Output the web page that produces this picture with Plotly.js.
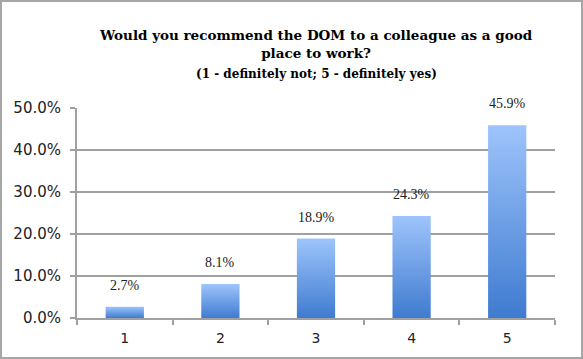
<!DOCTYPE html>
<html>
<head>
<meta charset="utf-8">
<script src="https://cdn.plot.ly/plotly-3.0.1.min.js"></script>
<style>
html,body{margin:0;padding:0;background:#fff;}
#frame{position:absolute;left:0;top:0;width:579px;height:355px;border:2px solid #a6a6a6;}
#chart{position:absolute;left:0;top:0;width:583px;height:359px;}
</style>
</head>
<body>
<div id="chart"></div>
<div id="frame"></div>
<script>
const categories = ['1', '2', '3', '4', '5'];
const percentValues = [2.7, 8.1, 18.9, 24.3, 45.9];
const yTickValues = [0, 10, 20, 30, 40, 50];
const yTickLabels = ['0.0%', '10.0%', '20.0%', '30.0%', '40.0%', '50.0%'];
const valueLabels = percentValues.map(v => v.toFixed(1) + '%');

const trace = {
  type: 'bar',
  x: categories,
  y: percentValues,
  marker: {color: '#6b9de6', line: {width: 0}},
  hoverinfo: 'none'
};

const annotations = categories.map((c, i) => ({
  x: i, y: percentValues[i], xref: 'x', yref: 'y',
  text: valueLabels[i], showarrow: false,
  yanchor: 'bottom', yshift: 12,
  font: {family: 'Liberation Serif, serif', size: 14, color: '#222'}
}));

annotations.push({
  xref: 'paper', yref: 'paper', x: 0.5, y: 1, yshift: 45, yanchor: 'bottom',
  showarrow: false,
  text: '<b>Would you recommend the DOM to a colleague as a good<br>place to work?</b>',
  font: {family: 'DejaVu Serif, serif', size: 13.5, color: '#000'}
});
annotations.push({
  xref: 'paper', yref: 'paper', x: 0.5, y: 1, yshift: 25, yanchor: 'bottom',
  showarrow: false,
  text: '<b>(1 - definitely not; 5 - definitely yes)</b>',
  font: {family: 'DejaVu Serif, serif', size: 12, color: '#000'}
});

const layout = {
  width: 583, height: 359,
  margin: {l: 77, r: 28, t: 108, b: 41, pad: 0},
  paper_bgcolor: '#fff', plot_bgcolor: '#fff',
  showlegend: false,
  bargap: 0.6,
  xaxis: {
    type: 'category',
    range: [-0.5, 4.5],
    tickson: 'boundaries',
    ticks: 'outside', ticklen: 5, tickcolor: '#a0a0a0', tickwidth: 2,
    showline: true, linecolor: '#a0a0a0', linewidth: 2,
    showgrid: false, zeroline: false,
    tickfont: {family: 'DejaVu Sans, sans-serif', size: 14, color: '#222'},
    ticklabelstandoff: 6
  },
  yaxis: {
    range: [0, 50],
    tickvals: yTickValues, ticktext: yTickLabels,
    ticks: 'outside', ticklen: 5, tickcolor: '#a0a0a0', tickwidth: 2,
    showline: true, linecolor: '#a0a0a0', linewidth: 2,
    showgrid: true, gridcolor: '#a0a0a0', gridwidth: 2,
    zeroline: false,
    tickfont: {family: 'DejaVu Sans, sans-serif', size: 15, color: '#222'},
    ticklabelstandoff: 6
  },
  annotations: annotations
};

Plotly.newPlot('chart', [trace], layout, {displayModeBar: false, staticPlot: true}).then(gd => {
  const svg = gd.querySelector('svg.main-svg');
  const ns = 'http://www.w3.org/2000/svg';
  let defs = svg.querySelector('defs');
  if (!defs) { defs = document.createElementNS(ns, 'defs'); svg.insertBefore(defs, svg.firstChild); }
  const grad = document.createElementNS(ns, 'linearGradient');
  grad.setAttribute('id', 'barGrad');
  grad.setAttribute('x1', '0'); grad.setAttribute('y1', '0');
  grad.setAttribute('x2', '0'); grad.setAttribute('y2', '1');
  [['0', '#9ec4fb'], ['1', '#3f7bd0']].forEach(([o, c]) => {
    const s = document.createElementNS(ns, 'stop');
    s.setAttribute('offset', o); s.setAttribute('stop-color', c);
    grad.appendChild(s);
  });
  defs.appendChild(grad);
  gd.querySelectorAll('.bars .point path').forEach(p => {
    p.style.fill = 'url(#barGrad)';
  });
});
</script>
</body>
</html>
